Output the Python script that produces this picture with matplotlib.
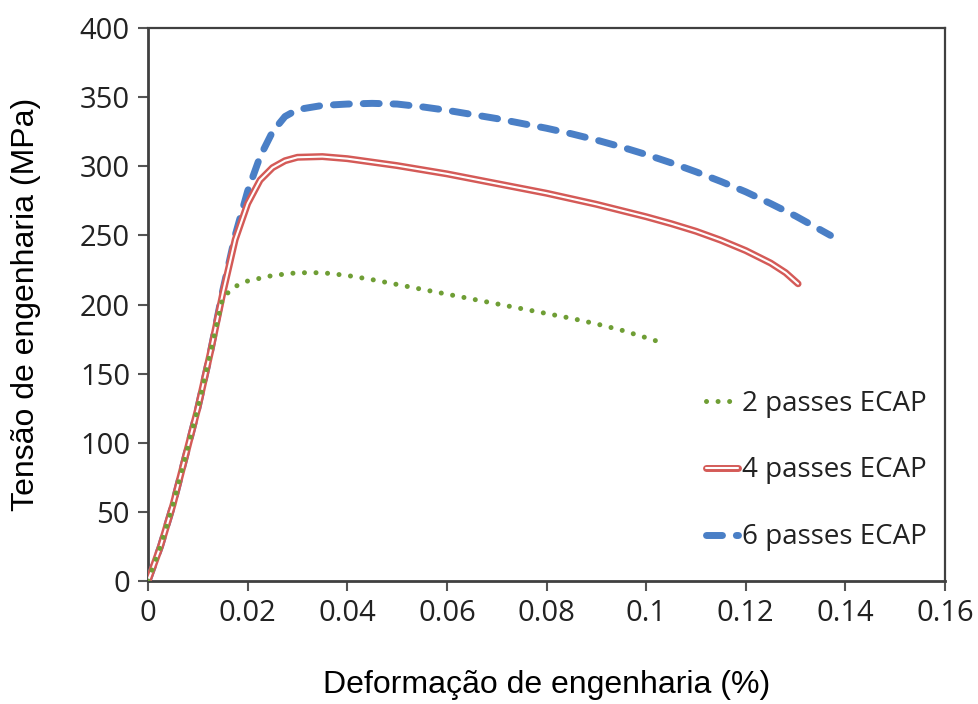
import matplotlib
matplotlib.use("Agg")
import matplotlib.pyplot as plt
import matplotlib.patheffects as pe

# values
x_2p = [0, 0.0025, 0.005, 0.0075, 0.01, 0.0125, 0.015, 0.0165, 0.018, 0.02, 0.025,
        0.03, 0.035, 0.04, 0.045, 0.05, 0.055, 0.06, 0.065, 0.07, 0.075, 0.08,
        0.085, 0.09, 0.095, 0.1, 0.1035]
y_2p = [0, 25, 55, 90, 125, 165, 205, 210, 214, 217, 221,
        223, 223, 221, 218, 214.5, 211, 207.5, 204, 200.5, 197, 193.5,
        190, 186, 181.5, 176, 172]

x_4p = [0, 0.0025, 0.005, 0.0075, 0.01, 0.0125, 0.015, 0.0175, 0.02, 0.0225, 0.025,
        0.0275, 0.03, 0.035, 0.04, 0.045, 0.05, 0.055, 0.06, 0.065, 0.07, 0.075,
        0.08, 0.085, 0.09, 0.095, 0.1, 0.105, 0.11, 0.115, 0.12, 0.125, 0.128, 0.1305]
y_4p = [0, 25, 55, 90, 125, 165, 208, 247, 273, 290, 299,
        304, 306.5, 307, 305.5, 303, 300.5, 297.5, 294.5, 291, 287.5, 284,
        280.5, 276.5, 272.5, 268, 263.5, 258.5, 253, 246.5, 239, 230, 223, 215]

x_6p = [0, 0.0025, 0.005, 0.0075, 0.01, 0.0125, 0.015, 0.0175, 0.02, 0.0225, 0.025,
        0.0275, 0.03, 0.035, 0.04, 0.045, 0.05, 0.055, 0.06, 0.065, 0.07, 0.075,
        0.08, 0.085, 0.09, 0.095, 0.1, 0.105, 0.11, 0.115, 0.12, 0.125, 0.13, 0.1345, 0.137]
y_6p = [0, 25, 55, 90, 125, 165, 210, 250, 282, 307, 325,
        336, 341, 344, 345, 345.5, 345, 343, 340.5, 337.5, 334.5, 331,
        327.5, 323.5, 319, 314, 308.5, 302.5, 296, 289, 281.5, 273, 264, 255, 250]

labels = ["2 passes ECAP", "4 passes ECAP", "6 passes ECAP"]
xticks = [0, 0.02, 0.04, 0.06, 0.08, 0.1, 0.12, 0.14, 0.16]
xticklabels = ["0", "0.02", "0.04", "0.06", "0.08", "0.1", "0.12", "0.14", "0.16"]
yticks = [0, 50, 100, 150, 200, 250, 300, 350, 400]

green = "#6f9e35"
red = "#d45a57"
blue = "#4a7fc6"

fig = plt.figure(figsize=(9.79, 7.04), dpi=100)
ax = fig.add_axes([0.1512, 0.1747, 0.8141, 0.7855])

ax.plot(x_6p, y_6p, color=blue, lw=5, linestyle=(0, (2.3, 2.0)),
        dash_capstyle="round", solid_joinstyle="round", label=labels[2], zorder=3)
ax.plot(x_4p, y_4p, color="white", lw=1.5, label=labels[1], zorder=4,
        solid_joinstyle="round", solid_capstyle="round",
        path_effects=[pe.Stroke(linewidth=5.0, foreground=red), pe.Normal()])
ax.plot(x_2p, y_2p, color=green, lw=3.6, linestyle=(0, (0.01, 2.3)),
        dash_capstyle="round", label=labels[0], zorder=5)

ax.set_xlim(0, 0.16)
ax.set_ylim(0, 400)
ax.set_xticks(xticks)
ax.set_xticklabels(xticklabels)
ax.set_yticks(yticks)

tickfont = "Open Sans"
for lab in ax.get_xticklabels() + ax.get_yticklabels():
    lab.set_fontfamily(tickfont)
    lab.set_fontsize(21)
    lab.set_color("#222222")

ax.tick_params(direction="out", length=7, width=1.5, color="#555555", pad=6)
for s in ["left", "bottom"]:
    ax.spines[s].set_linewidth(2.0)
    ax.spines[s].set_color("#404040")
for s in ["top", "right"]:
    ax.spines[s].set_linewidth(1.6)
    ax.spines[s].set_color("#404040")

ax.set_xlabel("Deformação de engenharia (%)", fontsize=23, fontfamily="Liberation Sans",
              labelpad=30)
ax.set_ylabel("Tensão de engenharia (MPa)", fontsize=23, fontfamily="Liberation Sans",
              labelpad=28)

h, l = ax.get_legend_handles_labels()
order = [2, 1, 0]
leg = ax.legend([h[i] for i in order], [l[i] for i in order],
                loc="center left", bbox_to_anchor=(0.686, 0.20), frameon=False,
                prop={"family": tickfont, "size": 20}, labelspacing=1.4,
                handlelength=1.15, handletextpad=0.15, borderaxespad=0)
for t in leg.get_texts():
    t.set_color("#222222")

fig.savefig("out.png", dpi=100)
